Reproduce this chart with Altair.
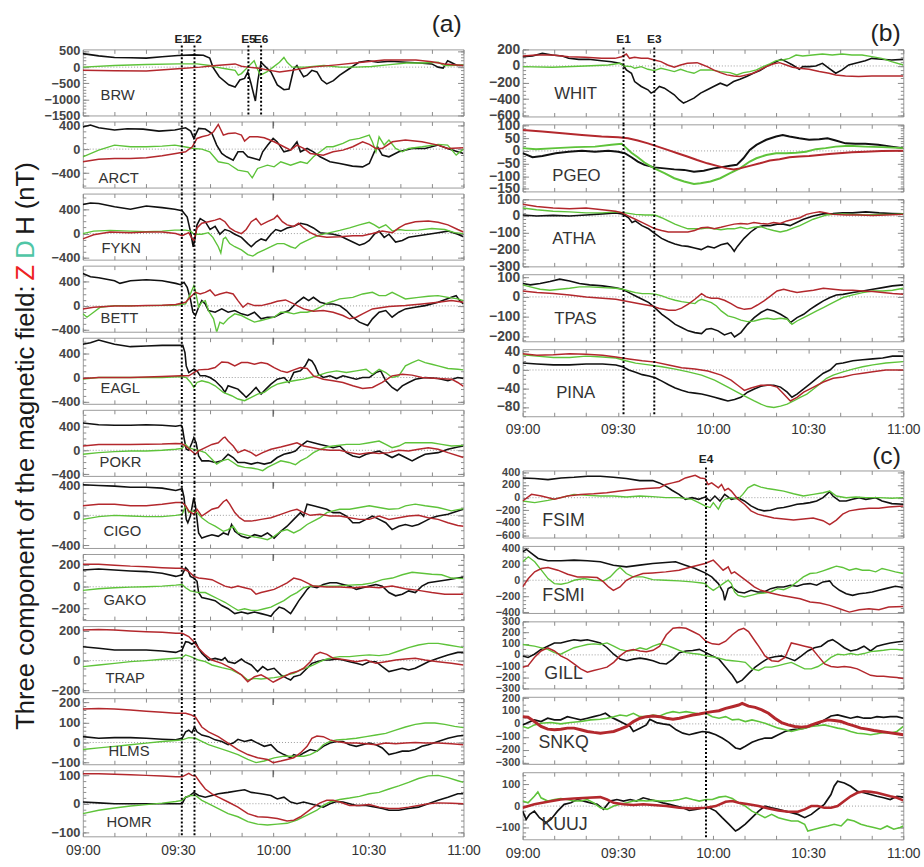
import altair as alt
import pandas as pd

XLABELS = ["09:00", "09:30", "10:00", "10:30", "11:00"]

# ---------------- (a) ----------------
BRW_H = [(0,420),(5,350),(10,300),(15,290),(20,280),(25,320),(30,360),(35,380),(38,370),(40,280),(41,0),(42,-150),(43,-300),(46,-550),(48,-620),(49.5,-400),(51,-350),(52,-150),(53,-500),(54.4,-1050),(55.2,-400),(56.2,150),(57.2,50),(59.3,-150),(61.3,-550),(63.4,-700),(65,-680),(66.5,-50),(67.5,50),(69.6,-300),(70.7,-250),(72.2,-100),(73.8,-150),(75.3,-400),(76.9,-520),(79,-420),(81,-250),(84,-50),(87,150),(90,200),(93,150),(97,180),(102,150),(106,130),(110,100),(112,0),(113.6,-30),(115,200),(116,150),(118,50),(120,50)]
BRW_D = [(0,0),(10,50),(20,80),(30,100),(36,100),(40,50),(42,0),(45,-50),(48,-100),(49,-250),(50,-200),(52,0),(54,200),(55,-50),(56,-250),(58,-150),(60,0),(62,150),(63.4,300),(64.4,150),(66,0),(70,0),(76,50),(81,0),(86,0),(91,20),(96,70),(102,130),(107,130),(112,150),(114,50),(116,50),(120,70)]
BRW_Z = [(0,-100),(10,-110),(20,-120),(30,-50),(37,0),(42,50),(48,100),(50,30),(52,0),(55,-30),(59,-100),(62,-150),(66,-100),(72,0),(80,70),(88,150),(95,220),(105,220),(110,170),(114,100),(120,50)]

ARCT_H = [(0,370),(2.4,400),(5,355),(10,317),(14,340),(19,333),(24,300),(29,317),(32.4,355),(34,300),(35,180),(36.5,345),(38.6,335),(40.7,260),(42.2,67),(43.8,-72),(45.3,-128),(47.4,-183),(48.9,-45),(50.5,-45),(52,-128),(54,-155),(55.7,-183),(56.7,-45),(58.3,67),(60,178),(61.3,120),(63.4,-45),(65.5,-15),(67.5,122),(68.6,-45),(70.7,11),(72.7,-45),(74.8,-128),(77.9,-211),(81,-240),(85,-283),(88.2,-295),(90.3,-240),(91.9,-45),(92.9,39),(94.4,-100),(96.5,-128),(99.6,-45),(103.8,11),(107.9,11),(112,67),(115,11),(118.2,-45),(120,-72)]
ARCT_D = [(0,-128),(5,-17),(10,67),(15,39),(20,39),(25,50),(29,67),(32,40),(35,11),(37.5,0),(40,-45),(42.7,-211),(45.8,-240),(48.9,-350),(52,-380),(53.4,-478),(55.1,-322),(58.2,-267),(60.3,-295),(62.4,-211),(65.5,-267),(68.6,-211),(70.7,-240),(72.7,-128),(74.8,-45),(76.9,39),(78.9,39),(82,95),(84.1,150),(87.2,178),(90.3,233),(91.3,120),(92.4,-45),(93.4,205),(95,67),(96.5,150),(98.6,11),(100.7,-45),(102.7,11),(107,39),(112,78),(115,67),(117.7,-100),(120,0)]
ARCT_Z = [(0,-211),(5,-167),(10,-155),(15,-155),(20,-145),(25,-111),(29.3,-72),(32.4,-45),(34.5,39),(36,178),(37.5,205),(39.6,233),(41.2,289),(42.7,411),(44.3,233),(45.8,261),(48,270),(50,233),(51,133),(52.6,205),(55.1,205),(57.2,189),(60.3,122),(63.4,39),(65.5,-17),(67.5,67),(69.6,11),(71.7,-72),(75.8,-100),(78.9,-45),(82,-17),(85.1,39),(88.2,122),(90.3,78),(92.4,11),(94.4,11),(97.6,122),(101.7,150),(106.9,122),(112,67),(115,11),(120,22)]

FYKN_H = [(0,480),(2.4,505),(5,495),(10,444),(15,402),(20,454),(25,428),(29,402),(31.3,376),(32.9,273),(33.9,41),(34.8,-217),(35.3,-100),(36,144),(37,248),(38.6,196),(40.1,67),(41.7,119),(43.2,-10),(44.8,67),(46.3,41),(47.9,-10),(50,-62),(52,-165),(53.1,-217),(54.6,-139),(56.2,-88),(57.7,-114),(59.3,-10),(60.8,67),(62.4,41),(64.4,93),(66.5,119),(68.6,170),(70.7,144),(72.7,93),(74.8,15),(76.9,0),(78.9,-10),(81,-36),(83.1,-88),(85.1,-139),(87.2,-191),(88.8,-165),(90.3,-114),(91.9,-10),(93.4,41),(95,-62),(96.5,-10),(98.6,-139),(100.7,-114),(102.7,-62),(105.8,-36),(108.9,-10),(112,15),(115.1,41),(118.2,-10),(120,-52)]
FYKN_D = [(0,0),(3.4,41),(8.6,52),(15,41),(20,31),(25,41),(29,57),(32.4,57),(34,41),(35,-10),(36,-10),(37.5,-10),(39.6,15),(41,-62),(42.7,-217),(43.5,-320),(44.3,-88),(45,-62),(46.3,-165),(47.9,-217),(50,-268),(52,-346),(53.6,-371),(55.1,-320),(57.2,-268),(59.3,-217),(61.3,-165),(63.4,-165),(65.5,-217),(67,-243),(68.6,-165),(70.7,-114),(72.7,-62),(74.8,-20),(77.9,15),(81,52),(84.1,93),(87.2,144),(90.3,186),(91.9,144),(93.4,93),(95.5,144),(97.6,41),(99.6,67),(101.7,52),(105.8,57),(110,83),(114.1,67),(117.2,15),(120,0)]
FYKN_Z = [(0,-88),(3.4,-20),(8.6,26),(15,15),(20,26),(25,26),(29.3,0),(31.3,-36),(33.4,15),(34.2,-62),(35,-114),(36,93),(37.5,170),(39.6,196),(41.7,222),(43.2,248),(44.8,196),(46.3,93),(47.9,41),(50,0),(51.5,67),(53.1,196),(54.6,248),(56.2,144),(58.2,196),(60.3,248),(61.3,299),(62.9,196),(64.4,144),(66.5,119),(68,170),(69.6,93),(71.7,15),(73.8,-36),(76.9,-62),(81,-52),(85.1,-36),(88.2,-36),(91.3,0),(94.4,41),(97.6,15),(99.6,93),(101.7,155),(104.8,196),(108.9,206),(112,186),(115.1,144),(118.2,67),(120,26)]

BETT_H = [(0,541),(2.4,486),(5,470),(10,420),(11.7,375),(15,420),(20,436),(25,420),(29.3,375),(30.8,353),(31.9,392),(32.9,309),(33.9,116),(34.7,-105),(35.5,-160),(36.5,-22),(37.5,88),(38.6,33),(39.6,-77),(41.7,-105),(43.8,-50),(45.8,-105),(47.9,-77),(50,-132),(52,-160),(54.1,-105),(56.2,-215),(58.2,-188),(60.3,-188),(62.4,-132),(65,-77),(67.5,61),(69.6,143),(71.2,88),(72.7,143),(74.8,61),(76.9,33),(78.9,33),(81,5),(83.1,-77),(85.1,-188),(87.2,-270),(89.8,-326),(91.3,-215),(93.4,-105),(95.5,-77),(97.5,-188),(99.6,-105),(101.7,-50),(104.8,-22),(107.9,5),(112,61),(116.2,143),(117.7,171),(118.8,88),(120,33)]
BETT_D = [(0,-132),(1.3,-188),(3.4,-105),(5.5,-22),(10,5),(20,5),(29,10),(32.4,33),(33.9,199),(35,337),(35.5,250),(36.5,-22),(37.5,61),(38.6,88),(39.6,-77),(41.2,-215),(42.2,-436),(43.2,-270),(44.3,-300),(45.8,-215),(47.9,-132),(50,-160),(52,-215),(54.1,-270),(56.2,-243),(58.2,-215),(60.3,-188),(62.4,-105),(64.4,-105),(66.5,-132),(68.6,-105),(70.7,-105),(72.7,-77),(74.8,-22),(76.9,44),(78.9,77),(81,116),(85.1,143),(88.2,199),(91.3,226),(93.4,171),(95.5,171),(97.5,226),(99.6,171),(101.7,116),(105.8,143),(108.9,160),(112,171),(115.1,143),(118.2,116),(120,88)]
BETT_Z = [(0,-50),(3.4,-22),(10,0),(15,0),(20,5),(25,11),(29.3,22),(32.4,61),(33.9,143),(35.5,226),(37,199),(38.6,226),(40.1,265),(41.7,171),(43.2,199),(45.3,226),(47.4,199),(48.9,88),(50.5,-22),(52,44),(54.1,5),(56.2,5),(59.3,44),(61.3,77),(63.9,99),(66.5,33),(69.6,-50),(72.7,-88),(75.8,-77),(78.9,-105),(82,-160),(84.1,-215),(86.2,-188),(88.2,-132),(91.3,-50),(96.5,-11),(101.7,5),(106.9,33),(112,61),(116.2,88),(120,61)]

EAGL_H = [(0,555),(2.4,583),(5,627),(7.6,590),(10,555),(15,516),(20,527),(25,538),(30,538),(31.5,538),(32.2,416),(32.6,194),(33.4,83),(35,139),(36,110),(37,28),(38.6,28),(40.1,0),(41.7,-55),(43.8,-166),(44.8,-250),(45.8,-139),(47.4,-166),(48.9,-194),(50.5,-277),(51.5,-333),(53.1,-250),(54.6,-166),(56.2,-277),(57.7,-194),(59.3,-111),(61.3,-28),(63.4,0),(65,-83),(66.5,83),(68.6,111),(70.1,194),(71.2,305),(72.2,277),(73.2,194),(74.3,55),(75.8,0),(77.9,28),(80,-17),(82,28),(84.1,0),(86.2,-28),(88.2,0),(90.3,0),(92.4,83),(93.9,111),(95.5,-55),(97.5,-166),(99.1,-222),(100.7,-139),(102.7,-83),(104.8,-28),(107.9,0),(112,-17),(115.1,-55),(118.2,0),(120,-17)]
EAGL_D = [(0,-28),(5,0),(15,0),(25,0),(31,17),(32.6,0),(34,-83),(35,-166),(36,-83),(37.5,-55),(39.6,-83),(41.7,-139),(44.3,-250),(46.9,-305),(48.9,-360),(51,-388),(53.1,-333),(55.1,-277),(57.2,-250),(59.3,-166),(61.3,-111),(63.4,-83),(66.5,-55),(69.6,-28),(71.7,0),(73.8,28),(76.9,83),(80,111),(83.1,83),(86.2,111),(89.3,139),(91.3,55),(93.4,139),(95.5,83),(97.5,0),(99.6,28),(101.7,194),(103.8,250),(105.8,294),(107.9,250),(110,222),(112,194),(115.1,150),(118.2,139),(120,128)]
EAGL_Z = [(0,-17),(5,0),(15,0),(25,17),(31,28),(33.4,28),(35,83),(36.5,128),(39.6,139),(41.7,166),(43.8,261),(45.8,250),(47.9,194),(50,250),(52,250),(54.1,222),(56.2,250),(58.2,230),(60.3,166),(62.4,111),(64.4,83),(66.5,128),(68.6,166),(70.7,150),(72.7,28),(75.8,-28),(78.9,-55),(82,-83),(85.1,-139),(88.2,-183),(91.3,-166),(94.4,-83),(97.5,28),(100.7,55),(103.8,40),(106.9,0),(112,-17),(116.2,-28),(118.2,-83),(120,-150)]

POKR_H = [(0,458),(5,430),(10,420),(15,420),(20,430),(25,420),(29.3,403),(31,420),(31.4,375),(31.9,210),(32.6,17),(33.4,0),(34.4,127),(35,210),(35.7,127),(36.5,-94),(37.5,-177),(39.6,-177),(41.7,-204),(43.8,-177),(45.8,-66),(47.4,-121),(48.9,-204),(51,-204),(53.1,-232),(55.1,-204),(57.2,-232),(59.3,-204),(61.3,-121),(63.4,-66),(65.5,-39),(67,-11),(68.6,72),(70.7,155),(72.7,127),(74.8,99),(76.9,72),(78.9,44),(81,72),(83.1,-39),(85.1,-94),(87.2,-121),(89.3,-66),(91.3,-39),(93.4,-11),(95.5,-66),(97.5,-121),(99.6,-66),(101.7,-121),(103.8,-177),(105.8,-121),(107.9,-66),(112,-39),(115.1,17),(118.2,55),(120,72)]
POKR_D = [(0,-66),(5,-39),(10,-22),(15,-11),(20,-11),(25,0),(29.3,17),(31.3,33),(32.4,99),(33.4,44),(35,17),(36.5,0),(38.6,-39),(40.7,-149),(42.2,-232),(43.8,-177),(45.8,-149),(47.4,-204),(48.9,-260),(51,-287),(53.1,-298),(55.1,-315),(56.7,-342),(58.2,-287),(60.3,-232),(62.4,-177),(65,-204),(67,-243),(68.6,-177),(70.7,-121),(72.7,-39),(74.8,17),(76.9,55),(78.9,72),(83.1,99),(87.2,99),(90.3,127),(93.4,155),(95.5,99),(97.5,44),(99.6,72),(101.7,127),(105.8,127),(110,127),(113.1,99),(116.2,72),(120,83)]
POKR_Z = [(0,72),(5,99),(15,99),(25,105),(29.3,116),(31.3,110),(32.4,72),(34,0),(35.5,-66),(36.5,-10),(38.6,44),(40.7,99),(42.7,127),(44.3,210),(44.8,221),(45.8,155),(47.4,72),(48.9,-39),(51,10),(53.1,-39),(54.6,-94),(56.7,-39),(59.3,17),(62.4,55),(65.5,99),(67.5,127),(69.6,72),(71.7,50),(74.8,17),(77.9,0),(81,0),(84.1,-39),(87.2,-66),(90.3,-39),(93.4,-55),(96.5,-39),(99.6,0),(102.7,-11),(105.8,17),(108.9,44),(112,17),(115.1,-39),(120,-121)]

CIGO_H = [(0,407),(5,398),(10,389),(15,375),(20,375),(25,362),(29.3,330),(31.3,353),(31.9,240),(32.6,-54),(33.1,-99),(33.9,-10),(34.4,104),(35,240),(35.5,130),(36,-54),(36.5,-235),(37.5,-303),(39.1,-280),(40.7,-258),(42.7,-280),(44.3,-235),(45.8,-258),(46.9,-122),(47.9,-213),(50,-280),(52,-303),(54.1,-258),(56.2,-280),(58.2,-235),(60.3,-303),(62.4,-213),(64.4,-145),(66.5,-54),(68.6,36),(69.6,-10),(70.7,149),(72.7,127),(74.8,104),(76.9,81),(78.9,36),(81,36),(83.1,-10),(85.1,-99),(87.2,-99),(89.3,-54),(91.3,-10),(93.4,-54),(95.5,-99),(97.5,-190),(99.6,-145),(101.7,-122),(103.8,-145),(105.8,-122),(107.9,-77),(110,-31),(112,-10),(115.1,13),(118.2,59),(120,81)]
CIGO_D = [(0,-54),(5,-18),(10,0),(15,-9),(20,-18),(25,-18),(29.3,0),(31.3,13),(32.4,127),(33.4,36),(34.4,59),(36,36),(37.5,-32),(39.6,-99),(41.7,-145),(44.3,-213),(45.8,-190),(47.4,-145),(48.9,-235),(51,-258),(53.1,-280),(56.2,-303),(58.2,-325),(60.3,-280),(62.4,-213),(64.4,-190),(66.5,-235),(68.6,-190),(70.7,-122),(72.7,-77),(74.8,-32),(76.9,36),(78.9,59),(81,81),(84.1,81),(87.2,104),(90.3,127),(93.4,104),(96.5,81),(99.6,90),(101.7,127),(104.8,149),(107.9,127),(112,104),(116.2,59),(120,90)]
CIGO_Z = [(0,127),(5,149),(10,149),(15,127),(20,127),(25,149),(29.3,172),(31.3,172),(32.4,127),(33.4,59),(35,13),(36,81),(37.5,-10),(39.1,36),(40.7,81),(42.7,104),(44.3,181),(45.3,208),(46.3,149),(47.9,36),(49.4,-32),(51,-77),(53.1,-77),(56.2,-54),(59.3,-32),(62.4,13),(65.5,59),(67.5,81),(69.6,36),(71.7,0),(74.8,13),(77.9,-9),(81,-9),(84.1,-32),(87.2,-54),(90.3,-54),(93.4,-9),(96.5,-54),(99.6,-32),(102.7,-9),(105.8,0),(108.9,-32),(112,-54),(115.1,-99),(118.2,-136),(120,-145)]

GAKO_H = [(0,154),(5,163),(10,154),(15,145),(20,139),(25,124),(29.3,95),(31.3,110),(32.4,175),(33.1,154),(33.9,95),(35,80),(36,50),(36.5,-53),(37.5,-98),(39.6,-112),(41.7,-127),(43.8,-172),(45.8,-201),(47.9,-246),(50,-231),(52,-246),(54.1,-231),(56.2,-246),(58.2,-260),(59.3,-270),(60.3,-231),(61.9,-186),(63.4,-201),(65.5,-246),(66.5,-201),(68.1,-127),(69.6,-68),(70.7,-24),(71.7,6),(73.8,-9),(75.8,21),(77.9,36),(80,36),(82,21),(84.1,6),(86.2,-24),(88.2,-9),(90.3,6),(92.4,21),(94.4,6),(96.5,-53),(98.6,-83),(100.7,-68),(102.7,-38),(104.8,-53),(106.9,6),(108.9,36),(112,50),(115.1,65),(118.2,80),(120,89)]
GAKO_D = [(0,-33),(5,-18),(10,-9),(15,-3),(20,0),(25,6),(29.3,15),(31.3,21),(32.4,-9),(33.9,-38),(36.5,-53),(38.6,-53),(40.7,-83),(42.7,-112),(44.8,-142),(46.9,-181),(48.9,-216),(51,-201),(53.1,-216),(55.1,-216),(57.2,-201),(59.3,-186),(61.3,-157),(63.4,-127),(65.5,-83),(67.5,-53),(69.6,-9),(71.7,6),(75.8,6),(80,6),(84.1,15),(88.2,21),(91.3,36),(94.4,65),(97.6,80),(100.7,110),(103.8,133),(106.9,124),(110,115),(113.1,110),(116.2,80),(120,74)]
GAKO_Z = [(0,207),(5,207),(10,198),(15,189),(20,184),(25,175),(29.3,169),(31.3,169),(33.4,139),(35,95),(36.5,80),(38.6,74),(40.7,65),(42.7,36),(44.8,6),(46.9,-9),(48.9,6),(51,-9),(53.1,-24),(54.6,-68),(56.2,-53),(58.2,-38),(60.3,-24),(62.4,6),(64.4,36),(66.5,80),(68.6,65),(70.7,36),(72.7,6),(76.9,-3),(81,-3),(85.1,-9),(89.3,0),(93.4,-9),(97.5,6),(101.7,-18),(105.8,-33),(110,-53),(114.1,-68),(120,-68)]

TRAP_H = [(0,93),(5,82),(10,71),(15,71),(20,71),(25,64),(29.3,55),(31.3,71),(32.4,126),(33.4,122),(34.4,109),(35.5,126),(36.5,82),(37.5,49),(38.6,27),(39.6,4),(41.7,15),(43.8,4),(44.8,20),(45.8,-7),(47.9,-18),(50,11),(51,-7),(53.1,-29),(55.1,-73),(56.7,-40),(58.2,-62),(60.3,-51),(62.4,-95),(64.4,-118),(65.5,-129),(66.5,-107),(68.6,-95),(70.7,-51),(72.2,-18),(73.8,-7),(75.8,4),(77.9,4),(80,11),(82,4),(84.1,-7),(86.2,-18),(88.2,-29),(90.3,-7),(92.4,-7),(94.4,-40),(96.5,-73),(98.6,-62),(100.7,-51),(102.7,-62),(104.8,-51),(106.9,-29),(108.9,-7),(112,16),(115.1,38),(118.2,55),(120,55)]
TRAP_D = [(0,-40),(5,-29),(10,-18),(15,-7),(20,0),(25,9),(29.3,16),(31.3,20),(32.4,38),(34,27),(36.5,4),(38.6,-7),(40.7,-29),(43.8,-47),(46.9,-62),(50,-95),(52,-129),(54.1,-118),(56.2,-122),(58.2,-118),(60.3,-113),(62.4,-107),(64.4,-95),(66.5,-84),(68.6,-62),(70.7,-47),(72.7,-29),(74.8,-7),(76.9,11),(78.9,20),(81,27),(84.1,27),(87.2,33),(90.3,38),(93.4,33),(96.5,42),(99.6,64),(102.7,87),(105.8,104),(108.9,115),(112,115),(115.1,104),(118.2,93),(120,87)]
TRAP_Z = [(0,204),(5,208),(10,204),(15,198),(20,193),(25,189),(29.3,182),(31.3,182),(33.4,160),(35,126),(36.5,82),(38.6,38),(40.7,4),(43.8,-18),(46.9,-51),(50,-95),(52,-140),(54.1,-107),(56.2,-95),(58.2,-118),(60,-144),(61.3,-129),(63.4,-107),(65.5,-84),(67.5,-73),(69.6,-51),(71.7,-7),(73.2,38),(74.8,55),(76.9,42),(78.9,16),(81,11),(83.1,4),(86.2,-7),(89.3,4),(92.4,-18),(95.5,-7),(98.6,4),(101.7,11),(104.8,16),(107.9,4),(112,-7),(116.2,-18),(120,-29)]

HLMS_H = [(0,29),(5,21),(10,24),(15,24),(20,21),(25,16),(29.3,13),(31.3,21),(32.4,53),(33.4,61),(34.4,48),(35.2,77),(36,53),(37.5,37),(39.6,29),(41.7,13),(43.8,5),(45.8,-11),(47.4,-3),(48.9,16),(51,5),(53.1,13),(55.1,-3),(57.2,-19),(59.3,-11),(61.3,-43),(63.4,-60),(65.5,-76),(66.5,-60),(68.1,-68),(69.6,-52),(71.7,-35),(73.8,-43),(75.8,-19),(77.9,-3),(80,5),(82,5),(84.1,-11),(86.2,-19),(88.2,-11),(90.3,-3),(92.4,-11),(94.4,-27),(96.5,-60),(98.6,-52),(100.7,-43),(102.7,-43),(104.8,-35),(106.9,-19),(108.9,-11),(112,5),(115.1,21),(118.2,32),(120,35)]
HLMS_D = [(0,-35),(5,-27),(10,-19),(15,-11),(20,-3),(25,5),(29.3,10),(31.3,13),(33.4,24),(35.5,21),(37.5,5),(39.6,-11),(42.7,-27),(45.8,-43),(48.9,-60),(52,-84),(54.6,-100),(57.2,-92),(60.3,-76),(63.4,-68),(66.5,-68),(69.6,-68),(71.7,-60),(73.8,-43),(75.8,-11),(77.9,5),(80,13),(83.1,16),(86.2,21),(89.3,29),(92.4,37),(95.5,45),(98.6,61),(101.7,77),(104.8,90),(107.9,97),(111,97),(114.1,90),(117.2,80),(120,74)]
HLMS_Z = [(0,166),(5,169),(10,166),(15,161),(20,155),(25,150),(29.3,145),(32.4,145),(34,138),(35.5,126),(37.5,77),(39.6,53),(42.7,29),(45.8,-3),(48.9,-35),(52,-60),(55.1,-76),(58.2,-84),(60,-100),(62.4,-92),(64.4,-84),(66.5,-76),(68.6,-52),(70.7,-19),(72.2,21),(73.8,32),(75.8,29),(77.9,13),(80,5),(83.1,-3),(86.2,-3),(89.3,-6),(92.4,-11),(95.5,-3),(98.6,-6),(101.7,-3),(104.8,0),(107.9,-3),(112,-3),(116.2,-6),(120,-11)]

HOMR_H = [(0,6),(5,3),(10,0),(20,0),(30,0),(31.3,0),(32.4,23),(33.4,26),(35,40),(36.5,29),(38.6,23),(40.7,29),(42.7,35),(45.8,40),(48.9,46),(51,49),(53.1,40),(56.2,35),(59.3,29),(61.3,17),(63.4,23),(65.5,6),(67.5,0),(69.6,6),(71.7,0),(73.8,-6),(75.8,-12),(77.9,0),(80,8),(82,6),(84.1,0),(86.2,-6),(89.3,-6),(92.4,-12),(94.4,-17),(96.5,-23),(99.6,-23),(102.7,-17),(105.8,-12),(108.9,0),(112,12),(115.1,23),(118.2,35),(120,35)]
HOMR_D = [(0,-35),(5,-23),(10,-15),(15,-8),(20,-3),(25,2),(29.3,8),(31.3,12),(32.4,23),(34,29),(35.5,29),(37.5,12),(39.6,0),(42.7,-17),(45.8,-35),(48.9,-46),(52,-63),(55.1,-72),(58.2,-75),(61.3,-72),(64.4,-69),(67.5,-58),(70.7,-40),(73.8,-23),(75.8,-6),(77.9,6),(81,15),(84.1,20),(87.2,26),(90.3,35),(93.4,40),(96.5,52),(99.6,63),(102.7,75),(105.8,89),(108.9,98),(112,100),(115.1,92),(118.2,81),(120,75)]
HOMR_Z = [(0,106),(5,106),(10,104),(15,102),(20,100),(25,98),(29.3,95),(31.3,95),(33.4,107),(34.4,100),(35.5,98),(37,75),(38.6,52),(40.7,35),(42.7,23),(45.8,6),(48.9,-12),(52,-35),(55.1,-46),(58.2,-48),(61.3,-52),(64.4,-61),(66.5,-58),(68.6,-46),(70.7,-29),(72.7,-12),(74.8,3),(76.9,12),(78.9,12),(81,6),(84.1,-6),(87.2,-6),(90.3,-3),(93.4,-12),(96.5,-17),(99.6,-17),(102.7,-12),(105.8,-6),(108.9,0),(112,3),(116.2,2),(120,0)]

# ---------------- (b) ----------------
WHIT_H = [(0,112),(3.1,120),(6.2,152),(9.3,132),(12.5,120),(14.5,92),(17.7,80),(20.8,80),(24.9,64),(28,52),(30.6,32),(31.7,12),(32.7,-48),(34.3,-88),(35.3,-188),(37.4,-248),(39.5,-288),(40.5,-328),(41.5,-308),(43.1,-248),(44.7,-268),(46.2,-308),(47.8,-348),(49.3,-408),(50.7,-448),(51.9,-428),(54,-388),(56.1,-328),(58.2,-288),(60.2,-248),(62.3,-208),(64.4,-240),(66.5,-188),(68.5,-160),(70.6,-128),(72.7,-88),(74.8,-56),(76.8,-8),(78.9,32),(81.5,80),(83.1,52),(85.1,12),(87.2,-40),(88.3,-8),(90.3,-8),(92.4,0),(94.5,32),(96.6,-28),(98.7,-88),(100.7,-48),(102.8,12),(104.9,32),(108,64),(110.1,92),(113.2,80),(116.3,72),(120,80)]
WHIT_D = [(0,-8),(9.3,-16),(19.7,0),(27,12),(30.6,32),(32.2,0),(34.3,-8),(35.3,-28),(37.4,-8),(39.5,-40),(41.5,-56),(43.6,-28),(45.7,-48),(47.8,-68),(49.8,-40),(51.9,-68),(54,-88),(56.1,-48),(59.2,-48),(62.3,-68),(65.4,-80),(67.5,-108),(69.6,-80),(71.6,-68),(73.7,-48),(75.8,-8),(77.9,24),(79.9,64),(82,72),(84.1,92),(86.2,132),(88.3,120),(91.4,132),(94.5,144),(97.6,132),(100.7,144),(103.8,132),(107,132),(110.1,112),(113.2,92),(116.3,52),(120,12)]
WHIT_Z = [(0,120),(4.2,132),(9.3,132),(14.5,112),(19.7,104),(24.9,92),(29.1,92),(31.2,112),(32.7,144),(33.7,92),(35.3,104),(37.4,92),(39.5,92),(41.5,72),(43.6,52),(45.7,12),(47.8,-16),(49.8,12),(51.9,32),(55,40),(56.1,24),(58.2,-8),(60.2,-48),(62.3,-80),(64.4,-108),(66.5,-120),(68.5,-128),(70.6,-108),(72.7,-88),(74.8,-48),(76.8,-8),(78.9,24),(81,40),(83.1,12),(85.1,-16),(87.2,-28),(90.3,-40),(93.5,-68),(96.6,-88),(98.7,-108),(101.8,-120),(105.9,-128),(110.1,-120),(114.2,-120),(120,-120)]

PGEO_H = [(0,-9),(3.1,-25),(6.2,-20),(10.4,-9),(14.5,-3),(18.7,1),(22.8,-3),(27,1),(30.1,-3),(32.2,-9),(34.3,-25),(36.3,-42),(38.4,-55),(41.5,-65),(44.7,-69),(47.8,-73),(50.9,-75),(54,-82),(57.1,-78),(60.2,-69),(62.3,-65),(65.4,-59),(67.5,-55),(69.6,-29),(71.6,4),(73.7,24),(76.8,44),(79.9,57),(82,63),(84.1,57),(87.2,50),(90.3,44),(93.5,46),(96.1,50),(98.7,41),(101.8,30),(104.9,28),(108,28),(112.1,24),(116.3,17),(120,11)]
PGEO_D = [(0,11),(4.2,7),(10.4,11),(16.6,15),(22.8,17),(28,24),(31.2,28),(32.2,17),(34.3,-7),(36.3,-25),(38.4,-46),(41.5,-69),(44.7,-88),(47.8,-108),(50.9,-121),(54,-131),(56.1,-128),(59.2,-121),(62.3,-108),(65.4,-88),(68.5,-69),(71.6,-42),(73.7,-29),(76.8,-16),(79.9,-9),(83.1,-9),(86.2,-7),(89.3,-3),(92.4,7),(95.5,11),(98.7,17),(102.8,20),(108,17),(113.2,15),(120,11)]
PGEO_Z = [(0,83),(6.2,77),(12.5,70),(18.7,63),(24.9,57),(30.1,54),(33.2,50),(36.3,41),(39.5,30),(42.6,17),(45.7,4),(48.8,-9),(51.9,-22),(55,-36),(58.2,-49),(61.3,-59),(64.4,-69),(66.5,-73),(68.5,-69),(71.6,-59),(74.8,-49),(77.9,-38),(81,-33),(84.1,-25),(87.2,-22),(90.3,-20),(93.5,-16),(96.6,-12),(99.7,-9),(103.8,-5),(108,-3),(113.2,0),(120,1)]

ATHA_H = [(0,6),(4.4,0),(9.6,4),(14.8,0),(20,6),(25.1,13),(29.3,19),(31.4,13),(33.4,-10),(34.5,-38),(35.5,-29),(37.6,-57),(39.7,-76),(41.7,-105),(43.8,-133),(45.9,-152),(48,-166),(50.1,-177),(52.1,-181),(54.2,-190),(56.3,-200),(58.4,-181),(60.4,-190),(62.5,-171),(64.6,-162),(65.6,-181),(66.7,-210),(67.7,-181),(69.8,-133),(71.9,-95),(73.9,-67),(76,-57),(78.1,-57),(80.2,-48),(82.2,-48),(84.3,-57),(86.4,-38),(88.5,-19),(91.6,0),(94.7,13),(97.8,15),(100.9,19),(104,19),(108.2,25),(112.4,19),(116.5,15),(120,13)]
ATHA_D = [(0,48),(4.4,38),(9.6,29),(14.8,25),(20,19),(25.1,19),(29.3,25),(32.4,19),(35.5,10),(38.6,6),(41.7,6),(43.8,-10),(45.9,-29),(48,-48),(50.1,-63),(52.1,-76),(54.2,-76),(56.3,-76),(58.4,-70),(60.4,-76),(62.5,-82),(64.6,-76),(66.7,-76),(68.7,-67),(70.8,-76),(72.9,-67),(75,-63),(77.1,-76),(79.1,-86),(81.2,-95),(83.3,-86),(85.4,-70),(87.4,-57),(89.5,-38),(91.6,-19),(93.7,-6),(95.7,6),(97.8,10),(100.9,13),(104,10),(108.2,6),(112.4,10),(116.5,10),(120,13)]
ATHA_Z = [(0,70),(4.4,57),(9.6,48),(14.8,44),(20,48),(25.1,38),(29.3,29),(31.4,19),(33.4,0),(35.5,-19),(37.6,-38),(39.7,-57),(41.7,-76),(43.8,-86),(45.9,-95),(48,-95),(50.1,-95),(52.1,-95),(54.2,-86),(56.3,-70),(58.4,-67),(60.4,-76),(62.5,-67),(64.6,-57),(66.7,-48),(68.7,-44),(70.8,-48),(72.9,-38),(75,-44),(77.1,-48),(79.1,-38),(81.2,-44),(83.3,-29),(85.4,-19),(87.4,-10),(89.5,10),(91.6,19),(93.7,25),(95.7,19),(97.8,10),(102,6),(106.1,6),(110.3,4),(114.4,6),(120,10)]

TPAS_H = [(0,68),(2.4,61),(5.5,68),(8.6,78),(11.7,90),(14.8,81),(17.9,68),(21.1,61),(25.2,56),(29.4,47),(31.5,39),(33.5,22),(35.6,5),(37.7,-12),(39.8,-29),(41.8,-57),(43.9,-88),(46,-113),(48.1,-139),(50.1,-155),(52.2,-172),(54.3,-181),(56.4,-186),(57.9,-164),(59.5,-160),(61.6,-172),(63.6,-193),(65.7,-181),(66.8,-203),(68.8,-181),(70.9,-139),(73,-105),(75.1,-79),(77.1,-63),(79.2,-71),(81.3,-88),(83.4,-108),(84.4,-130),(86.5,-105),(88.6,-88),(90.6,-63),(92.7,-41),(94.8,-20),(96.9,-3),(98.9,10),(101,13),(104.1,22),(107.2,30),(110.4,39),(113.5,47),(116.6,56),(120,61)]
TPAS_D = [(0,61),(2.4,51),(5.5,39),(8.6,34),(11.7,39),(14.8,44),(17.9,51),(21.1,51),(25.2,47),(29.4,44),(31.5,39),(33.5,30),(35.6,22),(37.7,17),(39.8,17),(41.8,14),(43.9,5),(46,-7),(48.1,-17),(50.1,-24),(52.2,-29),(54.3,-34),(55.3,-20),(56.4,-12),(57.9,-20),(59.5,-29),(61.1,-46),(62.6,-71),(64.7,-96),(66.8,-105),(68.8,-118),(70.9,-125),(73,-122),(75.1,-113),(77.1,-108),(79.2,-113),(81.3,-108),(83.4,-113),(84.9,-139),(86.5,-122),(88.6,-105),(90.6,-88),(92.7,-71),(94.8,-54),(96.9,-37),(98.9,-20),(101,-3),(104.1,10),(107.2,22),(110.4,30),(113.5,30),(116.6,34),(120,44)]
TPAS_Z = [(0,30),(4.5,22),(9.7,17),(14.8,10),(20,0),(25.2,-7),(29.4,-12),(33.5,-24),(37.7,-37),(40.8,-46),(42.9,-57),(46,-68),(48.1,-68),(50.1,-57),(52.2,-37),(54.3,-12),(56.4,17),(57.9,0),(59.5,-7),(61.6,-7),(63.6,-17),(65.7,-34),(67.8,-54),(69.9,-63),(72,-59),(74,-41),(76.1,-20),(78.2,5),(80.2,30),(82.3,39),(84.4,30),(86.5,22),(88.6,27),(91.7,34),(94.8,44),(97.9,39),(101,34),(104.1,34),(107.2,30),(110.4,27),(113.5,22),(116.6,17),(120,14)]

PINA_H = [(0,15),(4.5,13),(9.7,11),(14.8,11),(20,13),(25.2,13),(29.4,11),(31.5,7),(33.5,0),(35.6,-5),(37.7,-10),(39.8,-13),(41.8,-17),(43.9,-24),(46,-32),(48.1,-39),(50.1,-44),(52.2,-48),(54.3,-50),(56.4,-52),(58.4,-55),(60.5,-59),(62.6,-63),(64.7,-67),(66.8,-64),(68.8,-59),(70.9,-48),(73,-41),(75.1,-35),(77.1,-33),(79.2,-33),(81.3,-37),(83.4,-48),(84.9,-59),(86.5,-52),(88.6,-41),(90.6,-30),(92.7,-18),(94.8,-7),(96.9,0),(98.9,13),(101,15),(104.1,20),(107.2,22),(110.4,24),(113.5,26),(116.6,30),(120,30)]
PINA_D = [(0,33),(4.5,30),(9.7,27),(14.8,27),(20,30),(25.2,28),(29.4,26),(32.5,20),(35.6,15),(39.8,11),(43.9,7),(48.1,2),(52.2,-4),(56.4,-11),(60.5,-22),(64.7,-37),(68.8,-52),(73,-67),(75.1,-74),(77.1,-79),(79.2,-81),(81.3,-78),(83.4,-74),(85.4,-67),(87.5,-59),(89.6,-52),(91.7,-41),(93.7,-30),(95.8,-18),(97.9,-11),(101,-4),(104.1,2),(107.2,7),(110.4,11),(114.5,15),(120,18)]
PINA_Z = [(0,35),(4.5,32),(9.7,33),(14.8,35),(20,34),(25.2,32),(29.4,28),(33.5,24),(37.7,20),(41.8,17),(46,11),(50.1,5),(54.3,2),(58.4,-2),(62.6,-11),(65.7,-22),(67.8,-33),(69.9,-44),(72,-39),(75.1,-33),(78.2,-33),(80.2,-37),(82.3,-52),(84.4,-67),(86.5,-59),(88.6,-48),(91.7,-37),(94.8,-26),(97.9,-18),(101,-15),(104.1,-10),(107.2,-7),(110.4,-4),(114.5,0),(120,0)]

# ---------------- (c) ----------------
FSIM_H = [(0,312),(3.8,302),(8,286),(12.1,312),(16.2,322),(20.4,338),(24.5,338),(28.6,322),(32.7,302),(36.9,270),(41,270),(43.1,234),(45.1,182),(47.2,114),(49.3,52),(51.3,-26),(53.4,0),(55.5,-26),(57.5,10),(59.1,-52),(60.6,26),(62.2,-52),(63.7,52),(65.8,-26),(67.9,0),(69.9,-52),(72,-130),(74.1,-182),(76.1,-208),(78.2,-198),(80.3,-166),(82.3,-156),(84.4,-130),(86.5,-104),(88.5,-94),(90.6,-78),(92.7,-52),(94.7,0),(96.8,94),(97.8,26),(99.9,-52),(102,-52),(104,-26),(106.1,0),(108.2,-26),(111.3,0),(113.3,-52),(116.4,-94),(120,-104)]
FSIM_D = [(0,-52),(3.8,-78),(8,-42),(12.1,0),(16.2,52),(20.4,36),(24.5,26),(28.6,26),(32.7,10),(36.9,26),(41,16),(45.1,0),(49.3,0),(53.4,-26),(55.5,-78),(57.5,-130),(59.1,-156),(60.1,-78),(61.7,-182),(62.7,-78),(63.7,-26),(65.8,0),(67.9,-26),(69.4,52),(71,156),(73,208),(75.1,166),(77.1,146),(79.2,130),(82.3,104),(85.4,62),(88.5,26),(91.6,52),(94.7,78),(96.8,104),(98.9,26),(102,0),(105.1,10),(108.2,0),(112.3,0),(116.4,-10),(120,0)]
FSIM_Z = [(0,-52),(2.8,52),(5.9,26),(10,-26),(14.1,26),(18.3,52),(22.4,62),(26.5,78),(30.7,104),(34.8,130),(38.9,146),(43.1,156),(45.1,208),(47.2,234),(49.3,260),(51.3,312),(54.4,354),(56,312),(57.5,302),(58.5,208),(59.6,234),(61.7,156),(62.7,208),(63.7,114),(64.8,146),(65.8,104),(67.9,-26),(69.9,-104),(72,-208),(74.1,-260),(76.1,-286),(79.2,-322),(82.3,-338),(85.4,-354),(88.5,-338),(91.6,-322),(94.7,-364),(96.8,-426),(98.9,-354),(100.9,-260),(103,-208),(106.1,-182),(109.2,-166),(112.3,-166),(115.4,-146),(120,-130)]

FSMI_H = [(0,357),(1.2,386),(2.8,336),(4.9,273),(8,244),(12.1,244),(16.2,252),(20.4,244),(24.5,231),(28.6,189),(32.7,168),(36.9,189),(41,210),(45.1,223),(48.2,231),(51.3,189),(54.4,147),(57.5,92),(59.6,42),(61.7,-42),(63.2,-147),(63.7,-252),(64.8,-105),(65.8,-84),(67.9,-147),(69.9,-160),(72,-126),(74.1,-147),(76.1,-147),(78.2,-105),(80.3,-84),(82.3,-84),(84.4,-63),(86.5,-76),(88.5,-50),(90.6,-42),(92.7,-63),(94.7,-21),(96.8,-8),(97.8,-63),(99.9,-126),(102,-168),(104,-189),(106.1,-168),(108.2,-160),(110.2,-147),(112.3,-126),(114.4,-105),(117.5,-76),(120,-92)]
FSMI_D = [(0,231),(1.8,294),(3.8,231),(5.9,126),(8,21),(10,-42),(12.1,-50),(14.2,-34),(16.2,0),(19.3,21),(22.4,0),(25.5,-8),(27.6,42),(29.6,126),(30.7,160),(32.7,84),(34.8,42),(37.9,42),(41,8),(45.1,0),(49.3,-8),(53.4,-21),(56.5,-34),(57.5,-42),(58.6,-84),(60.1,-126),(61.7,-84),(63.2,-42),(64.8,0),(65.8,-42),(66.8,-147),(67.9,-189),(69.9,-210),(72,-189),(74.1,-168),(76.1,-160),(78.2,-147),(80.3,-105),(82.3,-118),(84.4,-84),(86.5,-21),(88.5,42),(90.6,84),(92.7,92),(94.7,118),(96.8,147),(98.9,176),(100.9,160),(103,126),(105.1,147),(107.1,126),(109.2,126),(111.3,105),(113.3,147),(115.4,126),(117.5,105),(120,84)]
FSMI_Z = [(0,-84),(1.8,21),(3.8,105),(5.9,147),(8,160),(11.1,126),(14.2,76),(17.3,42),(20.4,42),(23.5,34),(25.5,-21),(27.1,-84),(28.6,-126),(30.7,-84),(32.7,0),(34.8,42),(37.9,84),(41,92),(45.1,105),(49.3,126),(53.4,168),(57.5,210),(60.1,252),(61.7,189),(63.2,126),(64.8,168),(65.8,84),(66.8,105),(68.9,42),(71,-21),(73,-84),(75.1,-126),(78.2,-160),(81.3,-189),(84.4,-210),(87.5,-231),(90.6,-273),(93.7,-286),(96.8,-315),(99.9,-357),(103,-399),(106.1,-370),(109.2,-357),(112.3,-370),(115.4,-336),(120,-328)]

GILL_H = [(0,-9),(1.7,-23),(3.7,6),(5.8,49),(7.9,78),(10,107),(12,107),(14.1,122),(16.2,136),(18.3,128),(20.4,136),(22.4,122),(24.5,107),(26.6,64),(28.7,6),(30.7,-38),(32.8,-52),(34.9,-38),(37,-29),(39,-38),(41.1,-52),(43.2,-75),(45.3,-81),(47.4,-38),(49.4,20),(51.5,35),(53.6,40),(55.7,49),(57.8,20),(59.8,-9),(61.9,-38),(64,-110),(66.1,-183),(67.6,-249),(69.2,-226),(71.2,-168),(73.3,-110),(75.4,-67),(77.5,-29),(79.5,-17),(81.6,-9),(83.7,-29),(85.8,-52),(87.9,-9),(89.9,35),(92,64),(94.1,78),(96.2,122),(97.7,136),(99.3,107),(101.4,64),(103.4,35),(105.5,49),(107.6,78),(109.7,35),(111.7,78),(113.8,93),(115.9,107),(118,116),(120,122)]
GILL_D = [(0,93),(3.7,78),(7.9,49),(10,20),(12,6),(14.1,35),(16.2,64),(18.3,78),(20.4,93),(22.4,99),(24.5,93),(26.6,107),(28.7,78),(30.7,49),(32.8,35),(34.9,41),(37,64),(39,49),(41.1,78),(43.2,99),(45.3,87),(47.4,64),(49.4,41),(51.5,20),(53.6,12),(55.7,6),(57.8,-9),(59.8,-17),(61.9,-29),(64,-46),(66.1,-52),(68.1,-58),(70.2,-67),(72.3,-125),(74.4,-139),(76.4,-110),(78.5,-110),(80.6,-96),(82.7,-81),(84.7,-67),(86.8,-96),(88.9,-125),(91,-125),(93.1,-104),(95.2,-67),(97.2,-23),(99.3,6),(101.4,0),(103.4,12),(105.5,0),(107.6,12),(109.7,29),(111.7,35),(113.8,41),(115.9,49),(118,49),(120,41)]
GILL_Z = [(0,-110),(1.7,-96),(3.7,-23),(5.8,35),(7.9,64),(10,35),(12,-9),(14.1,-38),(16.2,-81),(18.3,-125),(20.4,-154),(22.4,-139),(24.5,-125),(26.6,-110),(28.7,-67),(30.7,-9),(32.8,35),(34.9,49),(37,35),(39,29),(41.1,41),(43.2,78),(45.3,180),(47.4,238),(49.4,244),(51.5,238),(53.6,209),(55.7,180),(57.8,122),(59.8,99),(61.9,93),(64,122),(66.1,180),(68.1,223),(69.7,238),(71.2,209),(73.3,122),(74.4,78),(76.4,-9),(78.5,-52),(80.6,-58),(82.7,-23),(84.7,107),(86.8,93),(88.9,78),(91,64),(93.1,-9),(95.2,-81),(97.2,-104),(99.3,-110),(101.4,-104),(103.4,-110),(105.5,-125),(107.6,-154),(109.7,-183),(111.7,-191),(113.8,-191),(115.9,-197),(118,-203),(120,-212)]

SNKQ_H = [(0,-8),(1.7,10),(3.7,31),(5.8,18),(7.9,44),(10,31),(12,31),(14.1,56),(16.2,44),(18.3,31),(20.4,44),(22.4,56),(24.5,69),(26.1,82),(27.6,56),(29.7,31),(31.8,5),(33.9,-20),(34.9,-59),(37,-33),(39,-8),(40.1,36),(42.2,10),(44.2,0),(46.3,-8),(48.4,-46),(50.5,-72),(52.5,-84),(54.6,-72),(56.7,-59),(58.8,-66),(60.9,-84),(62.9,-110),(65,-143),(67.1,-187),(68.6,-195),(70.2,-174),(72.3,-143),(74.4,-123),(76.4,-110),(78.5,-110),(80.6,-84),(82.7,-59),(84.7,-46),(86.8,-41),(88.9,-33),(91,-15),(93.1,0),(95.1,31),(97.2,61),(99.3,69),(101.4,56),(103.4,44),(105.5,56),(107.6,44),(109.7,44),(111.7,56),(113.8,51),(115.9,56),(118,56),(120,44)]
SNKQ_D = [(0,-20),(1.7,-33),(3.7,-8),(5.8,5),(8.9,10),(12,0),(15.1,10),(18.3,18),(21.4,31),(24.5,36),(26.6,44),(28.7,56),(30.7,69),(32.8,61),(34.9,82),(37,56),(39,56),(41.1,69),(43.2,61),(45.3,82),(47.4,95),(49.4,87),(51.5,95),(53.6,87),(55.7,77),(57.8,82),(59.8,56),(61.9,44),(64,56),(66.1,31),(68.1,36),(70.2,18),(72.3,31),(74.4,18),(76.4,5),(78.5,-15),(80.6,-33),(82.7,-46),(84.7,-59),(86.8,-46),(88.9,-33),(91,-20),(93.1,-15),(95.1,-8),(97.2,-20),(99.3,-33),(101.4,-41),(103.4,-59),(105.5,-72),(107.6,-77),(109.7,-84),(111.7,-77),(113.8,-66),(115.9,-72),(118,-59),(120,-20)]
SNKQ_Z = [(0,56),(1.7,51),(3.7,18),(5.8,-20),(7.9,-41),(10,-46),(12,-41),(14.1,-33),(16.2,-33),(18.3,-46),(20.4,-59),(22.4,-66),(24.5,-72),(26.6,-66),(28.7,-59),(30.7,-41),(32.8,-20),(34.9,18),(37,44),(39,56),(41.1,61),(43.2,56),(45.3,44),(47.4,36),(49.4,44),(51.5,56),(53.6,69),(55.7,77),(57.8,87),(59.8,95),(61.9,102),(64,120),(66.1,133),(68.1,146),(69.2,159),(71.2,138),(73.3,128),(75.4,108),(77.5,82),(79.5,44),(81.6,10),(83.7,-8),(85.8,-20),(87.9,-25),(89.9,-20),(92,0),(94.1,18),(96.2,31),(98.3,26),(100.4,18),(102.4,0),(104.5,-15),(106.6,-33),(108.6,-41),(110.7,-51),(112.8,-59),(114.9,-66),(118,-77),(120,-84)]

KUUJ_H = [(0,-23),(1.1,-61),(2.2,-38),(3.7,-23),(5.3,-53),(7.4,-76),(8.9,-61),(11,-23),(13.1,8),(15.2,15),(17.2,30),(19.3,23),(21.4,15),(23.5,8),(25.5,-15),(27.6,23),(29.7,30),(31.8,23),(33.9,30),(35.9,23),(38,38),(40.1,30),(42.2,23),(44.2,15),(46.3,8),(48.4,0),(50.5,-8),(52.5,-20),(54.6,-15),(56.7,-8),(58.8,-8),(60.9,-23),(62.9,-53),(65,-83),(67.1,-114),(68.1,-106),(70.2,-83),(72.3,-53),(74.4,-23),(76.4,0),(78.5,-8),(80.6,-15),(82.7,-23),(84.7,-30),(86.8,-38),(88.9,-53),(91,-38),(93,-15),(95.1,8),(97.2,53),(98.2,91),(99.3,114),(101.4,106),(103.4,91),(105.5,68),(107.6,61),(109.7,53),(111.7,45),(113.8,38),(115.9,30),(118,45),(120,41)]
KUUJ_D = [(0,23),(1.7,15),(3.7,45),(4.8,65),(5.8,38),(7.9,23),(10,30),(12,35),(14.1,30),(16.2,23),(18.3,23),(20.4,30),(22.4,15),(24.5,-8),(26.6,-15),(28.7,0),(30.7,8),(32.8,15),(34.9,23),(37,26),(39,23),(41.1,26),(43.2,23),(45.3,23),(47.4,26),(49.4,30),(51.5,38),(53.6,30),(55.7,23),(57.8,30),(59.8,30),(61.9,41),(64,45),(66.1,35),(68.1,15),(70.2,0),(72.3,-23),(74.4,-38),(76.4,-53),(78.5,-38),(80.6,-53),(82.7,-61),(84.7,-68),(86.8,-68),(88.9,-83),(89.9,-114),(92,-106),(94.1,-98),(96.2,-91),(98.2,-83),(100.4,-91),(102.4,-61),(104.5,-68),(106.6,-83),(108.6,-91),(110.7,-98),(112.8,-106),(114.9,-91),(117,-106),(119,-98),(120,-91)]
KUUJ_Z = [(0,-8),(3.7,8),(7.9,20),(12,30),(16.2,35),(20.4,38),(24.5,41),(26.6,30),(28.7,15),(31.8,8),(34.9,5),(38,8),(41.1,5),(45.3,0),(49.4,-8),(53.6,-11),(57.8,-8),(60.9,0),(64,20),(66.1,23),(68.1,15),(71.2,8),(74.4,0),(77.5,-11),(80.6,-20),(83.7,-26),(86.8,-26),(88.9,-15),(91,0),(93,0),(95.1,-8),(97.2,-8),(99.3,0),(101.4,23),(103.4,45),(105.5,61),(107.6,68),(109.7,65),(111.7,61),(113.8,53),(115.9,45),(118,38),(120,26)]

# event times (minutes after 09:00) and names
EV_A_T = [31.2, 35.2]
EV_A_N = ["E1", "E2"]
EV_BRW_T = [52.2, 56.2]
EV_BRW_N = ["E5", "E6"]
EV_B_T = [31.8, 41.5]
EV_B_N = ["E1", "E3"]
EV_C_T = [57.8]
EV_C_N = ["E4"]

# name, H, D, Z, y-domain, major ticks, minor step
PANELS_A = [
    ("BRW", BRW_H, BRW_D, BRW_Z, [-1500, 550], [500, 0, -500, -1000, -1500], 100),
    ("ARCT", ARCT_H, ARCT_D, ARCT_Z, [-640, 460], [400, 0, -400], 100),
    ("FYKN", FYKN_H, FYKN_D, FYKN_Z, [-430, 660], [400, 0, -400], 100),
    ("BETT", BETT_H, BETT_D, BETT_Z, [-430, 670], [400, 0, -400], 100),
    ("EAGL", EAGL_H, EAGL_D, EAGL_Z, [-440, 665], [400, 0, -400], 100),
    ("POKR", POKR_H, POKR_D, POKR_Z, [-430, 680], [400, 0, -400], 100),
    ("CIGO", CIGO_H, CIGO_D, CIGO_Z, [-435, 445], [400, 0, -400], 100),
    ("GAKO", GAKO_H, GAKO_D, GAKO_Z, [-305, 300], [200, 0, -200], 50),
    ("TRAP", TRAP_H, TRAP_D, TRAP_Z, [-210, 230], [200, 0, -200], 50),
    ("HLMS", HLMS_H, HLMS_D, HLMS_Z, [-108, 220], [200, 100, 0, -100], 20),
    ("HOMR", HOMR_H, HOMR_D, HOMR_Z, [-115, 118], [100, 0, -100], 20),
]
PANELS_B = [
    ("WHIT", WHIT_H, WHIT_D, WHIT_Z, [-610, 200], [200, 0, -200, -400, -600], 50),
    ("PGEO", PGEO_H, PGEO_D, PGEO_Z, [-160, 105], [100, 50, 0, -50, -100, -150], 10),
    ("ATHA", ATHA_H, ATHA_D, ATHA_Z, [-300, 100], [100, 0, -100, -200, -300], 20),
    ("TPAS", TPAS_H, TPAS_D, TPAS_Z, [-225, 115], [100, 0, -100, -200], 20),
    ("PINA", PINA_H, PINA_D, PINA_Z, [-100, 45], [40, 0, -40, -80], 10),
]
PANELS_C = [
    ("FSIM", FSIM_H, FSIM_D, FSIM_Z, [-630, 430], [400, 200, 0, -200, -400, -600], 50),
    ("FSMI", FSMI_H, FSMI_D, FSMI_Z, [-410, 430], [400, 200, 0, -200, -400], 50),
    ("GILL", GILL_H, GILL_D, GILL_Z, [-300, 300], [300, 200, 100, 0, -100, -200, -300], 50),
    ("SNKQ", SNKQ_H, SNKQ_D, SNKQ_Z, [-310, 210], [200, 100, 0, -100, -200, -300], 50),
    ("KUUJ", KUUJ_H, KUUJ_D, KUUJ_Z, [-152, 155], [100, 0, -100], 20),
]

# ---------------- styling / layout ----------------
BLACK = "#111111"
GREEN = "#5ec33a"
RED = "#b3282d"
FRAME = "#9a9a9a"
W = 386
H_A, GAP_A = 67, 6.1
H_B, GAP_B = 68, 8
H_C, GAP_C = 68, 8.5
TOP = 43

LABEL_POS = {
    "BRW": (18, 46), "ARCT": (16, 57), "FYKN": (19, 55), "BETT": (18, 53), "EAGL": (18, 51),
    "POKR": (17, 53), "CIGO": (21, 50), "GAKO": (21, 47), "TRAP": (23, 53), "HLMS": (26, 54),
    "HOMR": (24, 53), "WHIT": (32, 45), "PGEO": (30, 52), "ATHA": (30, 40), "TPAS": (32, 45),
    "PINA": (34, 45), "FSIM": (20, 51), "FSMI": (20, 51), "GILL": (22, 53), "SNKQ": (16, 47),
    "KUUJ": (19, 54),
}
LINE_W = {"PGEO": (2.0, 2.0, 2.0), "SNKQ": (1.7, 1.6, 3.0), "KUUJ": (1.7, 1.6, 2.6)}

TICKS10 = list(range(0, 121, 10))
LABEL_EXPR = ("datum.value % 30 === 0 ? [" + ",".join("'%s'" % s for s in XLABELS)
              + "][datum.value / 30] : ''")
ONE = pd.DataFrame({"n": [""]})


def anchor(x1, x2, y1, y2):
    # invisible rule that fixes the layout bounds of a column
    return alt.Chart(ONE).mark_rule(strokeWidth=0.01, opacity=0).encode(
        x=alt.value(x1), x2=alt.value(x2), y=alt.value(y1), y2=alt.value(y2))


def minor_values(dom, step):
    lo = int(dom[0] // step) * step
    vals = []
    v = lo
    while v <= dom[1]:
        if v >= dom[0]:
            vals.append(v)
        v += step
    return vals


def panel(p, h, bottom, lab_fs, name_fs, ev_t, ev_top, ev_bot, extra=None):
    name, HH, DD, ZZ, dom, ticks, mstep = p
    xs = alt.Scale(domain=[0, 120], nice=False, zero=False)
    ys = alt.Scale(domain=dom, nice=False, zero=False)

    def df(a):
        return pd.DataFrame(a, columns=["t", "v"])

    common = dict(domain=False, grid=False, title=None, tickColor="#8a8a8a", tickWidth=1)
    ax_bottom = alt.Axis(orient="bottom", values=TICKS10, tickSize=4, offset=-4, labels=bottom,
                         labelExpr=LABEL_EXPR, labelFontSize=14, labelColor="#333333",
                         labelPadding=7, labelFlush=False, labelOverlap=False, **common)
    ax_top = alt.Axis(orient="top", values=TICKS10, tickSize=4, offset=-4, labels=False, **common)
    ax_left = alt.Axis(orient="left", values=ticks, tickSize=6, offset=-6, labelFontSize=lab_fs,
                       labelFontWeight="bold", labelColor="#454545", labelPadding=3,
                       labelOverlap=False, format="d", **common)
    ax_right = alt.Axis(orient="right", values=ticks, tickSize=6, offset=-6, labels=False, **common)
    mv = minor_values(dom, mstep)
    ax_lmin = alt.Axis(orient="left", values=mv, tickSize=3, offset=-3, labels=False, **common)
    ax_rmin = alt.Axis(orient="right", values=mv, tickSize=3, offset=-3, labels=False, **common)

    wH, wD, wZ = LINE_W.get(name, (1.6, 1.4, 1.5))
    zero = alt.Chart(pd.DataFrame({"v": [0]})).mark_rule(
        color="#9a9a9a", strokeDash=[1, 2], strokeWidth=1).encode(
        y=alt.Y("v:Q", scale=ys, axis=ax_rmin))
    lH = alt.Chart(df(HH)).mark_line(color=BLACK, strokeWidth=wH, clip=True).encode(
        x=alt.X("t:Q", scale=xs, axis=ax_bottom), y=alt.Y("v:Q", scale=ys, axis=ax_left))
    lD = alt.Chart(df(DD)).mark_line(color=GREEN, strokeWidth=wD, clip=True).encode(
        x=alt.X("t:Q", scale=xs, axis=ax_top), y=alt.Y("v:Q", scale=ys, axis=ax_right))
    lZ = alt.Chart(df(ZZ)).mark_line(color=RED, strokeWidth=wZ, clip=True).encode(
        x=alt.X("t:Q", scale=xs, axis=None), y=alt.Y("v:Q", scale=ys, axis=ax_lmin))
    ev = alt.Chart(pd.DataFrame({"t": ev_t})).mark_rule(
        color="black", strokeDash=[2, 2], strokeWidth=2).encode(
        x=alt.X("t:Q", scale=xs, axis=None), y=alt.value(ev_top), y2=alt.value(ev_bot))
    lx, ly = LABEL_POS[name]
    nm = alt.Chart(pd.DataFrame({"n": [name]})).mark_text(
        align="left", baseline="middle", fontSize=name_fs, color="#333333").encode(
        x=alt.value(lx), y=alt.value(ly), text="n:N")
    layers = [zero, lH, lD, lZ, ev, nm]
    if extra:
        layers += extra(xs)
    return alt.layer(*layers).resolve_axis(x="independent", y="independent").properties(
        width=W, height=h)


def ev_labels(xs, ts, ns, y):
    return alt.Chart(pd.DataFrame({"t": ts, "n": ns})).mark_text(
        fontSize=12, fontWeight="bold", color="#222222", baseline="middle").encode(
        x=alt.X("t:Q", scale=xs, axis=None), y=alt.value(y), text="n:N")


def letter(txt, x, y):
    return alt.Chart(pd.DataFrame({"n": [txt]})).mark_text(
        fontSize=25, color="#222222", baseline="middle", align="center").encode(
        x=alt.value(x), y=alt.value(y), text="n:N")


def tick60(xs):
    return [alt.Chart(pd.DataFrame({"t": [60]})).mark_rule(color="#555555", strokeWidth=1.2).encode(
        x=alt.X("t:Q", scale=xs, axis=None), y=alt.value(0), y2=alt.value(7))]


# column (a)
def extra_brw(xs):
    return [ev_labels(xs, EV_A_T, EV_A_N, -11), ev_labels(xs, EV_BRW_T, EV_BRW_N, -11),
            alt.Chart(pd.DataFrame({"t": EV_BRW_T})).mark_rule(
                color="black", strokeDash=[2, 2], strokeWidth=2).encode(
                x=alt.X("t:Q", scale=xs, axis=None), y=alt.value(-4), y2=alt.value(H_A)),
            letter("(a)", 369, -26), anchor(-38, W + 20, -TOP, -TOP)]


left_panels = []
for i, p in enumerate(PANELS_A):
    last = i == len(PANELS_A) - 1
    extra = extra_brw if i == 0 else tick60
    top = -4 if i == 0 else 0
    left_panels.append(panel(p, H_A, last, 13, 15, EV_A_T, top,
                             H_A if last else H_A + GAP_A, extra))


def extra_whit(xs):
    return [ev_labels(xs, EV_B_T, EV_B_N, -11), letter("(b)", 368, -17),
            anchor(-37, W + 20, -TOP, -TOP)]


def extra_pina(xs):
    return [anchor(0, 0, H_B, H_B + 25)]


def extra_fsim(xs):
    return [ev_labels(xs, EV_C_T, EV_C_N, -12), letter("(c)", 369, -15),
            anchor(-37, W + 20, -28, -28)]


b_panels = []
for i, p in enumerate(PANELS_B):
    last = i == len(PANELS_B) - 1
    extra = extra_whit if i == 0 else (extra_pina if last else None)
    top = -2 if i == 0 else 0
    b_panels.append(panel(p, H_B, last, 14, 17, EV_B_T, top,
                          H_B if last else H_B + GAP_B, extra))

c_panels = []
for i, p in enumerate(PANELS_C):
    last = i == len(PANELS_C) - 1
    extra = extra_fsim if i == 0 else None
    top = -3 if i == 0 else 0
    c_panels.append(panel(p, H_C, last, 11, 18, EV_C_T, top,
                          H_C if last else H_C + GAP_C, extra))

# rotated, multi-coloured y title
TITLE_PARTS = ["Three component of the magnetic field:", "Z", "D", "H (nT)"]
TITLE_COLORS = ["#1a1a1a", "#ee2222", "#4fc6a6", "#1a1a1a"]
TITLE_Y = [733, 269.5, 246, 231]
TITLE_ALIGN = ["left", "center", "center", "left"]
title_layers = [anchor(0, 40, -TOP, -TOP)]
for txt, col, yy, al in zip(TITLE_PARTS, TITLE_COLORS, TITLE_Y, TITLE_ALIGN):
    title_layers.append(alt.Chart(pd.DataFrame({"n": [txt]})).mark_text(
        angle=270, align=al, baseline="middle", fontSize=26, color=col).encode(
        x=alt.value(25), y=alt.value(yy - TOP), text="n:N"))
title_chart = alt.layer(*title_layers).properties(
    width=40, height=798, view=alt.ViewBackground(stroke="transparent"))

left = alt.vconcat(*left_panels, spacing=GAP_A, bounds="flush")
bgrp = alt.vconcat(*b_panels, spacing=GAP_B, bounds="flush")
cgrp = alt.vconcat(*c_panels, spacing=GAP_C, bounds="flush")
right = alt.vconcat(bgrp, cgrp, spacing=0, bounds="full")

chart = alt.hconcat(title_chart, left, right, spacing=1, bounds="full").properties(
    padding=0, background="white"
).configure(
    font="Liberation Sans",
    view=alt.ViewConfig(stroke=FRAME, strokeWidth=1),
)

chart.save("out.html", embed_options={"renderer": "svg", "actions": False})
